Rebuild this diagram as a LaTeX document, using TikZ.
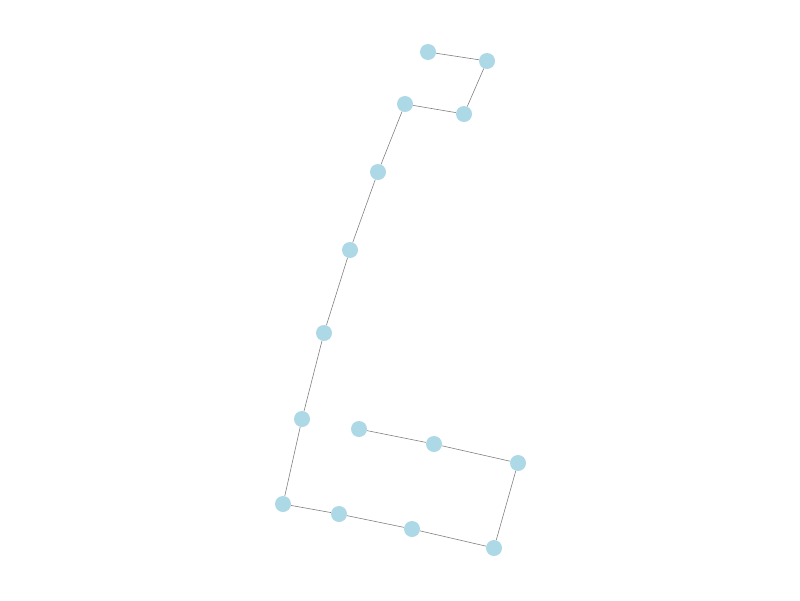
\documentclass[tikz,border=0pt]{standalone}
\begin{document}
\begin{tikzpicture}[x=1pt,y=-1pt,
  vtx/.style={circle,fill={rgb,255:red,173;green,216;blue,230},draw=none,minimum size=16pt,inner sep=0pt},
  edge/.style={draw={rgb,255:red,128;green,128;blue,128},line width=0.6pt}]
\useasboundingbox (0,0) rectangle (800,600);
\node[vtx] (n1) at (428,52) {};
\node[vtx] (n2) at (487,61) {};
\node[vtx] (n3) at (464,114) {};
\node[vtx] (n4) at (405,104) {};
\node[vtx] (n5) at (378,172) {};
\node[vtx] (n6) at (350,250) {};
\node[vtx] (n7) at (324,333) {};
\node[vtx] (n8) at (302,419) {};
\node[vtx] (n9) at (283,504) {};
\node[vtx] (n10) at (339,514) {};
\node[vtx] (n11) at (412,529) {};
\node[vtx] (n12) at (494,548) {};
\node[vtx] (n13) at (518,463) {};
\node[vtx] (n14) at (434,444) {};
\node[vtx] (n15) at (359,429) {};
\foreach \a/\b in {n1/n2,n2/n3,n3/n4,n4/n5,n5/n6,n6/n7,n7/n8,n8/n9,n9/n10,n10/n11,n11/n12,n12/n13,n13/n14,n14/n15}
  \draw[edge] (\a) -- (\b);
\end{tikzpicture}
\end{document}
